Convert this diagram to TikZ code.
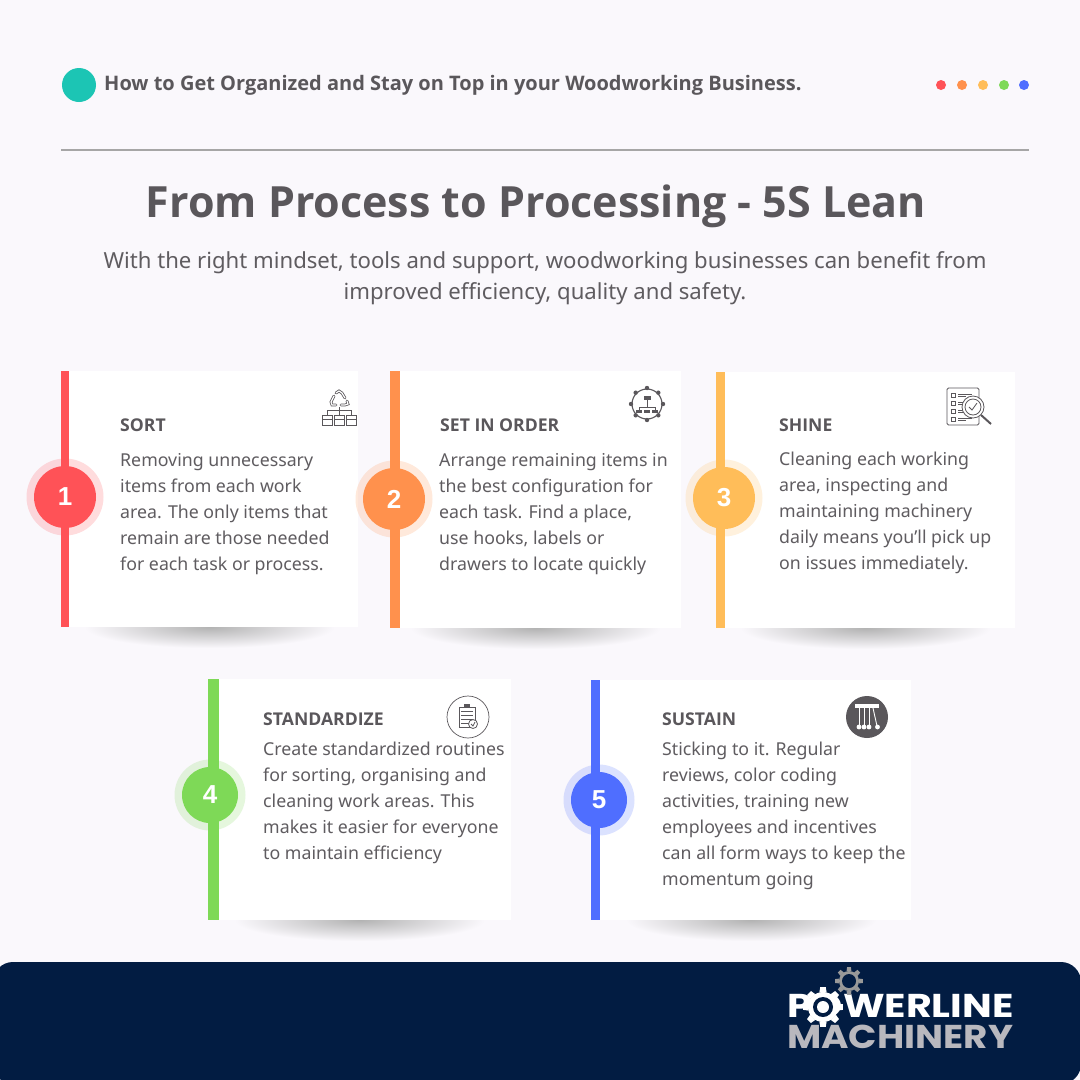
\documentclass[tikz,border=0pt]{standalone}
\usepackage{fontspec}
\setmainfont{Noto Sans}
\newfontfamily\headfont{Open Sans}
\newfontfamily\logofont{Poppins}
\newfontfamily\digitfont{Liberation Sans}
\usepackage{xcolor}
\usetikzlibrary{calc}
\definecolor{bgcol}{HTML}{FAF8FC}
\definecolor{navy}{HTML}{021C42}
\definecolor{teal}{HTML}{1CC5B4}
\definecolor{inkcol}{HTML}{5A575B}
\definecolor{bodycol}{HTML}{5F5C60}
\definecolor{redcol}{HTML}{FF5257}
\definecolor{orangecol}{HTML}{FF914D}
\definecolor{yellowcol}{HTML}{FFBD59}
\definecolor{greencol}{HTML}{7ED957}
\definecolor{bluecol}{HTML}{4F6EFF}
\definecolor{logogray}{HTML}{B9B8BE}
\tikzset{
	heading/.style={anchor=base west, inner sep=0pt, text=inkcol, font=\fontsize{17.6}{21}\selectfont\headfont\bfseries},
	bodytext/.style={anchor=north west, inner sep=0pt, align=left, text=bodycol, font=\fontsize{17.75}{26}\selectfont},
	numdot/.style={circle, inner sep=0pt, text=white, font=\fontsize{26}{30}\selectfont\digitfont\bfseries},
	icon/.style={draw=inkcol, line width=0.8pt},
	logotext/.style={anchor=base west, inner sep=0pt, font=\fontsize{33}{36}\selectfont\logofont\bfseries},
}
% shadow under a card: bar left, card right, bottom
\newcommand{\drawshadow}[3]{
	\shade[inner color=black!30, outer color=bgcol] ({(#1+#2)/2}, #3) ellipse (125 and 21);
}
% card: colour, bar left, bar right, card right, top, bottom
\newcommand{\drawcard}[6]{
	\fill[white] (#3, #5) rectangle (#4, #6);
	\fill[#1] (#2, #5) rectangle (#3, #6);
}
% number on the bar: name, colour, x, y, text, radius
\newcommand{\drawdot}[6]{
	\fill[#2, opacity=0.2] (#3, #4) circle (#6+7.5);
	\node[numdot, fill=#2, minimum size=2*#6] (#1) at (#3, #4) {#5};
}
% gear: x, y, outer radius, inner radius, colour
\newcommand{\drawgear}[5]{
	\fill[#5] (#1, #2) circle (#4);
	\foreach \a in {0,45,...,315}
		\fill[#5] ($(#1, #2)+(\a-14:#4)$) -- ($(#1, #2)+(\a-8:#3)$) -- ($(#1, #2)+(\a+8:#3)$) -- ($(#1, #2)+(\a+14:#4)$) -- cycle;
}

\begin{document}
\begin{tikzpicture}[x=1pt, y=-1pt]
	\useasboundingbox (0, 0) rectangle (1080, 1080);
	\fill[bgcol] (0, 0) rectangle (1080, 1080);

	%% top strip
	\fill[teal] (79, 85) circle (17);
	\node[anchor=base west, inner sep=0pt, text=inkcol, font=\fontsize{20}{22}\selectfont\headfont\bfseries] (toptext) at (104, 90) {How to Get Organized and Stay on Top in your Woodworking Business.};
	\fill[redcol] (941, 85) circle (5);
	\fill[orangecol] (962, 85) circle (5);
	\fill[yellowcol] (983, 85) circle (5);
	\fill[greencol] (1004, 85) circle (5);
	\fill[bluecol] (1024, 85) circle (5);
	\draw[line width=1.5pt, color=black!35] (61, 150) -- (1029, 150);

	% title
	\node[anchor=base, inner sep=0pt, text=inkcol, font=\fontsize{43}{50}\selectfont\headfont\bfseries] (title) at (536, 217) {From Process to Processing - 5S Lean};
	\node[anchor=north, inner sep=0pt, align=center, text=bodycol, font=\fontsize{22.15}{31}\selectfont] (subtitle) at (545, 251) {With the right mindset, tools and support, woodworking businesses can benefit from\\improved efficiency, quality and safety.};

	%% cards
	\drawshadow{61}{358}{627}
	\drawshadow{390}{681}{628}
	\drawshadow{716}{1015}{628}
	\drawshadow{208}{511}{920}
	\drawshadow{591}{911}{920}

	\drawcard{redcol}{61}{69}{358}{371}{627}
	\drawcard{orangecol}{390}{400}{681}{371}{628}
	\drawcard{yellowcol}{716}{725}{1015}{372}{628}
	\drawcard{greencol}{208}{219}{511}{679}{920}
	\drawcard{bluecol}{591}{600}{911}{680}{920}

	\drawdot{dot1}{redcol}{65}{497}{1}{31}
	\drawdot{dot2}{orangecol}{394}{499}{2}{31}
	\drawdot{dot3}{yellowcol}{724}{498}{3}{31}
	\drawdot{dot4}{greencol}{210}{795}{4}{28}
	\drawdot{dot5}{bluecol}{599}{800}{5}{28}

	% headings
	\node[heading] (sorthead) at (120, 431) {SORT};
	\node[heading] (orderhead) at (440, 431) {SET IN ORDER};
	\node[heading] (shinehead) at (779, 431) {SHINE};
	\node[heading] (stdhead) at (263, 725) {STANDARDIZE};
	\node[heading] (sustainhead) at (662, 725) {SUSTAIN};

	% body texts
	\node[bodytext] (sortbody) at (120, 453) {Removing unnecessary\\items from each work\\area. The only items that\\remain are those needed\\for each task or process.};
	\node[bodytext] (orderbody) at (439, 453) {Arrange remaining items in\\the best configuration for\\each task. Find a place,\\use hooks, labels or\\drawers to locate quickly};
	\node[bodytext] (shinebody) at (779, 452) {Cleaning each working\\area, inspecting and\\maintaining machinery\\daily means you’ll pick up\\on issues immediately.};
	\node[bodytext] (stdbody) at (263, 742) {Create standardized routines\\for sorting, organising and\\cleaning work areas. This\\makes it easier for everyone\\to maintain efficiency};
	\node[bodytext] (sustainbody) at (662, 742) {Sticking to it. Regular\\reviews, color coding\\activities, training new\\employees and incentives\\can all form ways to keep the\\momentum going};

	%% icons
	% recycling tree
	\draw[inkcol, line width=2.8pt, line cap=round] (336, 393) -- (339, 391) -- (342, 393) -- (345, 398) (347, 401) -- (348, 404) -- (345, 405) -- (341, 405) (336, 405) -- (332, 405) -- (331, 402) -- (334, 396);
	\draw[white, line width=1.2pt, line cap=round] (336, 393) -- (339, 391) -- (342, 393) -- (345, 398) (347, 401) -- (348, 404) -- (345, 405) -- (341, 405) (336, 405) -- (332, 405) -- (331, 402) -- (334, 396);
	\draw[icon] (339, 407) -- (339, 415) (327, 415) -- (327, 410) -- (351, 410) -- (351, 415);
	\foreach \x in {322, 334, 346}
		\draw[icon] (\x, 415) rectangle (\x+10, 425) (\x, 419) -- (\x+10, 419);
	% organisation ring
	\draw[icon, line width=1.1pt] (647, 404) circle (15);
	\foreach \a in {0, 45, ..., 315}
		\fill[inkcol] (647, 404) ++(\a:16) circle (2.2);
	\fill[inkcol] (644, 396) rectangle (651, 400);
	\draw[icon] (647, 400) -- (647, 407) (639, 410) -- (639, 407) -- (655, 407) -- (655, 410);
	\foreach \x in {639, 647, 655}
		\fill[inkcol] (\x-3, 410) rectangle (\x+3, 413);
	% checklist and lens
	\draw[icon, rounded corners=1.5pt] (947, 388) rectangle (979, 425);
	\foreach \y in {395, 403, 411, 419} {
		\draw[icon] (951, \y-2) rectangle (955, \y+2);
		\draw[icon] (958, \y-1) -- (972, \y-1) (958, \y+1) -- (966, \y+1);
	}
	\fill[white] (973, 407) circle (11);
	\draw[icon] (973, 407) circle (11) (973, 407) circle (8);
	\draw[icon] (969, 407) -- (972, 410) -- (977, 403);
	\draw[icon, line width=2pt] (981, 415) -- (991, 424);
	% clipboard
	\draw[icon, line width=0.7pt] (468, 717) circle (21);
	\draw[icon] (459, 707) rectangle (475, 727);
	\fill[inkcol] (464, 704) rectangle (470, 708);
	\foreach \y in {711, 715, 719, 723}
		\draw[icon] (461, \y) -- (473, \y);
	\fill[white] (473, 724) circle (4.5);
	\draw[icon] (473, 724) circle (4.5) (471, 724) -- (473, 726) -- (475, 722);
	% pendulum
	\fill[inkcol] (867, 717) circle (21);
	\fill[white] (855, 704) rectangle (879, 708);
	\foreach \x in {859, 864, 869} {
		\draw[white, line width=0.9pt] (\x, 708) -- (\x, 726);
		\fill[white] (\x, 727) circle (2.4);
	}
	\draw[white, line width=0.9pt] (873, 708) -- (877, 726);
	\fill[white] (877.5, 727) circle (2.4);

	%% footer
	\fill[navy, rounded corners=20pt] (-7, 962) rectangle (1081, 1084);

	% logo
	\node[logotext, text=white, xscale=1.2] (powerline) at (787, 1017) {POWERLINE};
	\node[logotext, text=logogray, xscale=1.13] (machinery) at (787, 1048) {MACHINERY};
	\drawgear{849}{981}{14}{10}{black!40}
	\fill[navy] (849, 981) circle (7);
	\drawgear{823}{1007}{20}{15}{white}
	\fill[navy] (823, 1007) circle (10);
	\fill[white] (823, 1007) circle (6);
\end{tikzpicture}
\end{document}
